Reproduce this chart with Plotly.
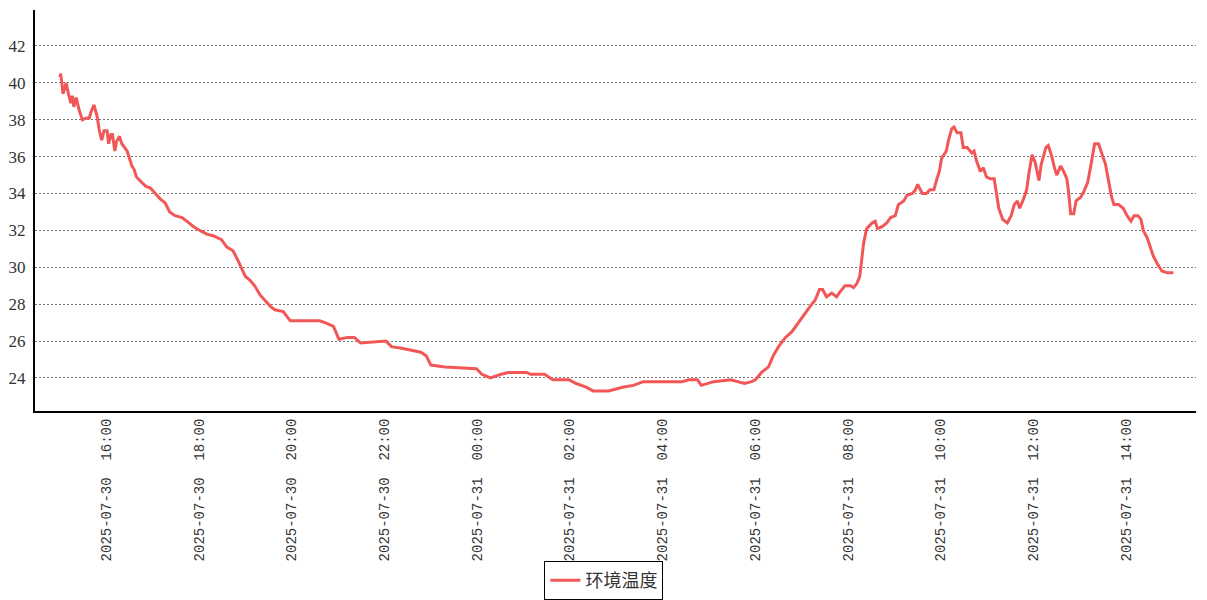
import plotly.graph_objects as go

series_name = "环境温度"

times = [
    "2025-07-30 15:00", "2025-07-30 15:01", "2025-07-30 15:04", "2025-07-30 15:08", "2025-07-30 15:11",
    "2025-07-30 15:14", "2025-07-30 15:16", "2025-07-30 15:18", "2025-07-30 15:21", "2025-07-30 15:25",
    "2025-07-30 15:29", "2025-07-30 15:35", "2025-07-30 15:38", "2025-07-30 15:40", "2025-07-30 15:44",
    "2025-07-30 15:48", "2025-07-30 15:51", "2025-07-30 15:54", "2025-07-30 15:57", "2025-07-30 16:01",
    "2025-07-30 16:03", "2025-07-30 16:06", "2025-07-30 16:08", "2025-07-30 16:11", "2025-07-30 16:13",
    "2025-07-30 16:17", "2025-07-30 16:20", "2025-07-30 16:24", "2025-07-30 16:27", "2025-07-30 16:30",
    "2025-07-30 16:33", "2025-07-30 16:36", "2025-07-30 16:39", "2025-07-30 16:46", "2025-07-30 16:51",
    "2025-07-30 16:57", "2025-07-30 17:03", "2025-07-30 17:10", "2025-07-30 17:16", "2025-07-30 17:22",
    "2025-07-30 17:29", "2025-07-30 17:38", "2025-07-30 17:44", "2025-07-30 17:53", "2025-07-30 18:01",
    "2025-07-30 18:10", "2025-07-30 18:19", "2025-07-30 18:29", "2025-07-30 18:36", "2025-07-30 18:44",
    "2025-07-30 18:50", "2025-07-30 18:55", "2025-07-30 19:00", "2025-07-30 19:06", "2025-07-30 19:12",
    "2025-07-30 19:19", "2025-07-30 19:25", "2025-07-30 19:32", "2025-07-30 19:38", "2025-07-30 19:49",
    "2025-07-30 19:58", "2025-07-30 20:36", "2025-07-30 20:43", "2025-07-30 20:54", "2025-07-30 21:01",
    "2025-07-30 21:12", "2025-07-30 21:21", "2025-07-30 21:29", "2025-07-30 22:02", "2025-07-30 22:09",
    "2025-07-30 22:24", "2025-07-30 22:47", "2025-07-30 22:54", "2025-07-30 23:00", "2025-07-30 23:18",
    "2025-07-30 23:59", "2025-07-31 00:06", "2025-07-31 00:17", "2025-07-31 00:31", "2025-07-31 00:40",
    "2025-07-31 01:04", "2025-07-31 01:09", "2025-07-31 01:27", "2025-07-31 01:38", "2025-07-31 01:59",
    "2025-07-31 02:08", "2025-07-31 02:21", "2025-07-31 02:30", "2025-07-31 02:50", "2025-07-31 03:08",
    "2025-07-31 03:22", "2025-07-31 03:35", "2025-07-31 04:11", "2025-07-31 04:25", "2025-07-31 04:34",
    "2025-07-31 04:45", "2025-07-31 04:50", "2025-07-31 05:06", "2025-07-31 05:28", "2025-07-31 05:46",
    "2025-07-31 05:55", "2025-07-31 06:00", "2025-07-31 06:08", "2025-07-31 06:17", "2025-07-31 06:23",
    "2025-07-31 06:30", "2025-07-31 06:39", "2025-07-31 06:47", "2025-07-31 06:54", "2025-07-31 07:02",
    "2025-07-31 07:11", "2025-07-31 07:17", "2025-07-31 07:23", "2025-07-31 07:27", "2025-07-31 07:32",
    "2025-07-31 07:39", "2025-07-31 07:45", "2025-07-31 07:50", "2025-07-31 07:56", "2025-07-31 08:03",
    "2025-07-31 08:07", "2025-07-31 08:11", "2025-07-31 08:15", "2025-07-31 08:17", "2025-07-31 08:20",
    "2025-07-31 08:24", "2025-07-31 08:31", "2025-07-31 08:35", "2025-07-31 08:38", "2025-07-31 08:44",
    "2025-07-31 08:50", "2025-07-31 08:55", "2025-07-31 09:01", "2025-07-31 09:05", "2025-07-31 09:12",
    "2025-07-31 09:16", "2025-07-31 09:23", "2025-07-31 09:27", "2025-07-31 09:30", "2025-07-31 09:36",
    "2025-07-31 09:41", "2025-07-31 09:46", "2025-07-31 09:51", "2025-07-31 09:55", "2025-07-31 09:58",
    "2025-07-31 10:01", "2025-07-31 10:07", "2025-07-31 10:10", "2025-07-31 10:14", "2025-07-31 10:17",
    "2025-07-31 10:21", "2025-07-31 10:26", "2025-07-31 10:29", "2025-07-31 10:34", "2025-07-31 10:40",
    "2025-07-31 10:43", "2025-07-31 10:46", "2025-07-31 10:51", "2025-07-31 10:55", "2025-07-31 10:59",
    "2025-07-31 11:04", "2025-07-31 11:09", "2025-07-31 11:15", "2025-07-31 11:20", "2025-07-31 11:26",
    "2025-07-31 11:31", "2025-07-31 11:35", "2025-07-31 11:39", "2025-07-31 11:42", "2025-07-31 11:47",
    "2025-07-31 11:51", "2025-07-31 11:54", "2025-07-31 11:58", "2025-07-31 12:02", "2025-07-31 12:07",
    "2025-07-31 12:10", "2025-07-31 12:13", "2025-07-31 12:16", "2025-07-31 12:19", "2025-07-31 12:23",
    "2025-07-31 12:27", "2025-07-31 12:30", "2025-07-31 12:35", "2025-07-31 12:39", "2025-07-31 12:43",
    "2025-07-31 12:45", "2025-07-31 12:48", "2025-07-31 12:52", "2025-07-31 12:55", "2025-07-31 13:01",
    "2025-07-31 13:05", "2025-07-31 13:10", "2025-07-31 13:14", "2025-07-31 13:19", "2025-07-31 13:24",
    "2025-07-31 13:28", "2025-07-31 13:33", "2025-07-31 13:37", "2025-07-31 13:41", "2025-07-31 13:44",
    "2025-07-31 13:50", "2025-07-31 13:56", "2025-07-31 14:01", "2025-07-31 14:06", "2025-07-31 14:10",
    "2025-07-31 14:15", "2025-07-31 14:19", "2025-07-31 14:22", "2025-07-31 14:27", "2025-07-31 14:31",
    "2025-07-31 14:35", "2025-07-31 14:40", "2025-07-31 14:46", "2025-07-31 14:53", "2025-07-31 15:01",
]

temperature = [
    40.3, 40.5, 39.4, 40.0, 39.4,
    38.9, 39.3, 38.7, 39.2, 38.5,
    38.0, 38.1, 38.1, 38.4, 38.8,
    38.2, 37.4, 36.9, 37.4, 37.4,
    36.7, 37.2, 37.2, 36.3, 36.8,
    37.1, 36.7, 36.5, 36.3, 35.9,
    35.5, 35.3, 34.9, 34.6, 34.4,
    34.3, 34.0, 33.7, 33.5, 33.0,
    32.8, 32.7, 32.5, 32.2, 32.0,
    31.8, 31.7, 31.5, 31.1, 30.9,
    30.4, 29.9, 29.5, 29.3, 29.0,
    28.5, 28.2, 27.9, 27.7, 27.6,
    27.1, 27.1, 27.0, 26.8, 26.1,
    26.2, 26.2, 25.9, 26.0, 25.7,
    25.6, 25.4, 25.2, 24.7, 24.6,
    24.5, 24.2, 24.0, 24.2, 24.3,
    24.3, 24.2, 24.2, 23.9, 23.9,
    23.7, 23.5, 23.3, 23.3, 23.5,
    23.6, 23.8, 23.8, 23.8, 23.9,
    23.9, 23.6, 23.8, 23.9, 23.7,
    23.8, 23.9, 24.3, 24.6, 25.2,
    25.7, 26.2, 26.5, 26.9, 27.4,
    27.9, 28.2, 28.8, 28.8, 28.4,
    28.6, 28.4, 28.7, 29.0, 29.0,
    28.9, 29.1, 29.5, 30.2, 31.3,
    32.1, 32.4, 32.5, 32.1, 32.2,
    32.4, 32.7, 32.8, 33.4, 33.6,
    33.9, 34.0, 34.2, 34.5, 34.0,
    34.0, 34.2, 34.2, 34.8, 35.2,
    35.9, 36.3, 36.9, 37.5, 37.6,
    37.3, 37.3, 36.5, 36.5, 36.2,
    36.3, 35.8, 35.2, 35.4, 34.9,
    34.8, 34.8, 33.2, 32.6, 32.4,
    32.8, 33.4, 33.6, 33.2, 33.7,
    34.2, 35.1, 36.1, 35.7, 34.7,
    35.6, 36.0, 36.5, 36.6, 36.1,
    35.4, 35.0, 35.5, 35.2, 34.8,
    34.2, 32.9, 32.9, 33.6, 33.8,
    34.1, 34.6, 35.5, 36.7, 36.7,
    36.2, 35.6, 34.7, 33.8, 33.4,
    33.4, 33.2, 32.8, 32.5, 32.8,
    32.8, 32.6, 32.0, 31.6, 31.1,
    30.6, 30.2, 29.8, 29.7, 29.7,
]

tick_values = [
    "2025-07-30 16:00", "2025-07-30 18:00", "2025-07-30 20:00", "2025-07-30 22:00",
    "2025-07-31 00:00", "2025-07-31 02:00", "2025-07-31 04:00", "2025-07-31 06:00",
    "2025-07-31 08:00", "2025-07-31 10:00", "2025-07-31 12:00", "2025-07-31 14:00",
]
tick_labels = [v.replace(" ", "\u00a0\u00a0") for v in tick_values]

y_ticks = [24, 26, 28, 30, 32, 34, 36, 38, 40, 42]

fig = go.Figure()
fig.add_trace(go.Scatter(
    x=times, y=temperature, mode="lines", name=series_name,
    line=dict(color="#f25757", width=3),
))

fig.update_layout(
    width=1199, height=592,
    margin=dict(l=27, r=11, t=2, b=189, autoexpand=False),
    paper_bgcolor="white", plot_bgcolor="white",
    showlegend=True,
    legend=dict(
        orientation="h", xref="container", yref="container",
        x=0.497, xanchor="center", y=0.0, yanchor="bottom",
        bordercolor="black", borderwidth=1, bgcolor="white",
        font=dict(family="Noto Sans CJK SC", size=18, color="#333"),
        itemwidth=30,
    ),
    xaxis=dict(
        type="date", automargin=False,
        range=["2025-07-30 14:27:42", "2025-07-31 15:30:12"],
        tickvals=tick_values, ticktext=tick_labels,
        tickangle=-90,
        tickfont=dict(family="Liberation Mono", size=14, color="#333"),
        showgrid=False, zeroline=False,
        showline=True, linecolor="black", linewidth=2,
        ticks="",
    ),
    yaxis=dict(
        automargin=False,
        range=[22.21, 43.95],
        tickvals=y_ticks,
        tickfont=dict(family="Liberation Serif", size=17, color="#333"),
        showgrid=True, gridcolor="#777", griddash="2px,2px", gridwidth=1,
        zeroline=False,
        showline=True, linecolor="black", linewidth=2,
        ticks="", ticklabelstandoff=4,
    ),
)

fig.write_html("out.html")
